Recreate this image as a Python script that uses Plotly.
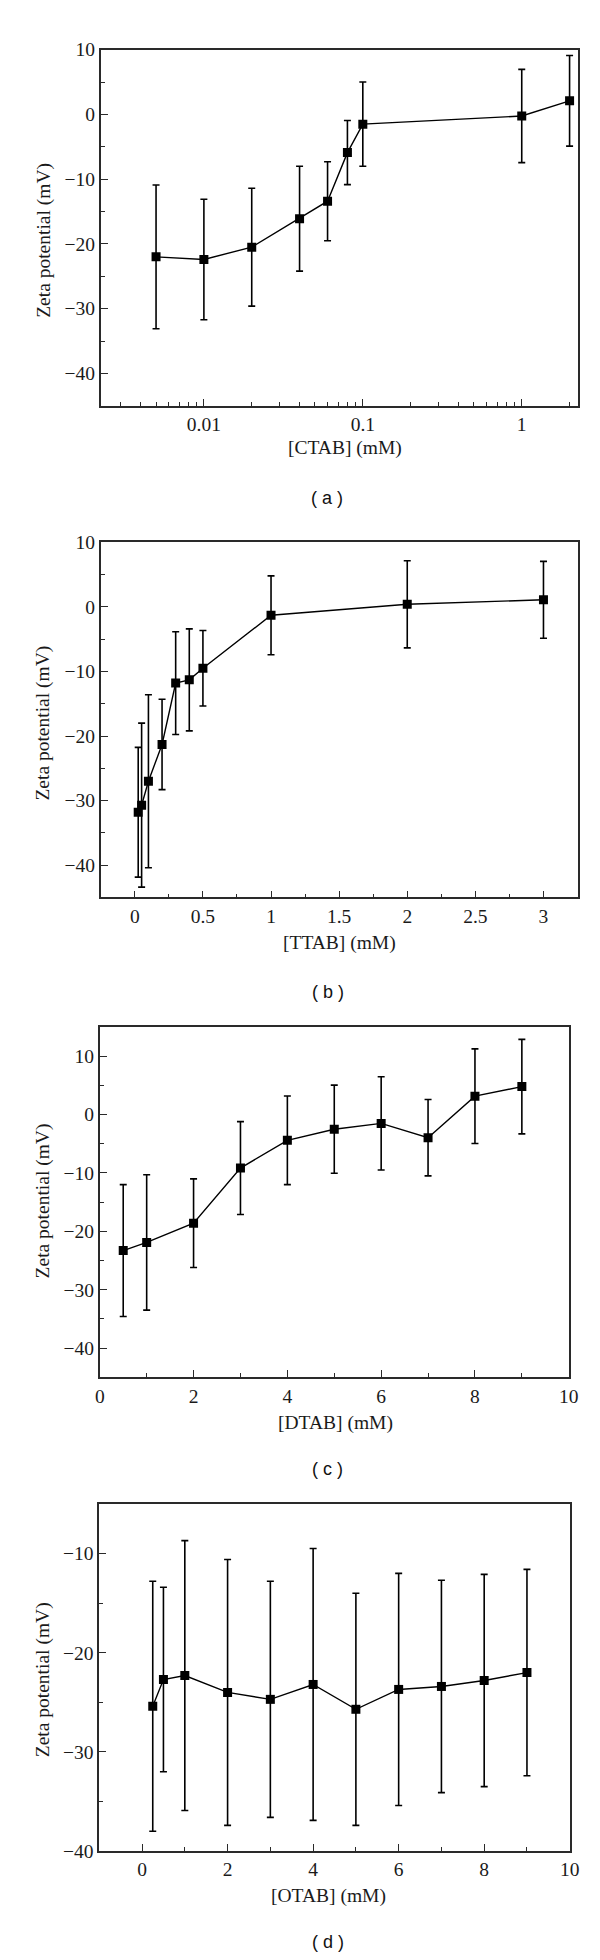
import plotly.graph_objects as go

# ---------------- data ----------------
ctab_x = [0.005, 0.01, 0.02, 0.04, 0.06, 0.08, 0.1, 1, 2]
ctab_y = [-22.0, -22.4, -20.5, -16.1, -13.4, -5.9, -1.5, -0.25, 2.1]
ctab_err = [11.1, 9.3, 9.1, 8.1, 6.1, 4.95, 6.5, 7.2, 7.0]

ttab_x = [0.025, 0.05, 0.1, 0.2, 0.3, 0.4, 0.5, 1, 2, 3]
ttab_y = [-31.8, -30.7, -27.0, -21.3, -11.8, -11.3, -9.5, -1.3, 0.4, 1.1]
ttab_err = [10.05, 12.7, 13.4, 7.0, 7.95, 7.9, 5.85, 6.1, 6.75, 5.95]

dtab_x = [0.5, 1, 2, 3, 4, 5, 6, 7, 8, 9]
dtab_y = [-23.3, -21.9, -18.6, -9.15, -4.4, -2.5, -1.5, -3.95, 3.16, 4.8]
dtab_err = [11.3, 11.6, 7.6, 7.95, 7.6, 7.55, 8.0, 6.55, 8.1, 8.1]

otab_x = [0.25, 0.5, 1, 2, 3, 4, 5, 6, 7, 8, 9]
otab_y = [-25.4, -22.7, -22.3, -24.0, -24.7, -23.2, -25.7, -23.7, -23.4, -22.8, -22.0]
otab_err = [12.6, 9.3, 13.6, 13.4, 11.9, 13.7, 11.7, 11.7, 10.7, 10.7, 10.4]

x_titles = ["[CTAB] (mM)", "[TTAB] (mM)", "[DTAB] (mM)", "[OTAB] (mM)"]
panel_labels = ["( a )", "( b )", "( c )", "( d )"]
y_title = "Zeta potential (mV)"

log_minor = [0.003, 0.004, 0.005, 0.006, 0.007, 0.008, 0.009,
             0.02, 0.03, 0.04, 0.05, 0.06, 0.07, 0.08, 0.09,
             0.2, 0.3, 0.4, 0.5, 0.6, 0.7, 0.8, 0.9, 2]

W, H = 600, 1960
SERIF = "Liberation Serif"
SANS = "Liberation Sans"

# pixel boxes (left, right, top, bottom)
boxes = [(90, 579, 32, 392), (90, 579, 530, 889), (89, 570, 1020, 1374), (88.5, 571, 1502, 1853)]

fig = go.Figure()
series = [(ctab_x, ctab_y, ctab_err), (ttab_x, ttab_y, ttab_err),
          (dtab_x, dtab_y, dtab_err), (otab_x, otab_y, otab_err)]
for i, (xs, ys, es) in enumerate(series):
    n = "" if i == 0 else str(i + 1)
    fig.add_trace(go.Scatter(
        x=xs, y=ys, xaxis="x" + n, yaxis="y" + n, mode="lines+markers",
        line=dict(color="black", width=1.4),
        marker=dict(symbol="square", size=9, color="black"),
        error_y=dict(type="data", array=es, visible=True, color="black",
                     thickness=1.6, width=3.5),
        showlegend=False))

xranges = [[-2.649, 0.351], [-0.25, 3.25], [0, 10], [-1, 10]]
yranges = [[-45, 10], [-45, 10], [-45, 15], [-40, -5]]
xdt = [None, 0.5, 2, 2]
xminor = [None, 0.25, 1, 1]

layout = dict(width=W, height=H, margin=dict(l=0, r=0, t=0, b=0),
              paper_bgcolor="white", plot_bgcolor="white", showlegend=False)
axis_common = dict(showline=True, linecolor="#2a2a2a", linewidth=1.8, mirror=True,
                   ticks="inside", ticklen=7, tickwidth=1.3, tickcolor="#2a2a2a",
                   showgrid=False, zeroline=False,
                   tickfont=dict(family=SERIF, size=19.5, color="#1a1a1a"))
for i, (l, r, t, b) in enumerate(boxes):
    n = "" if i == 0 else str(i + 1)
    xa = dict(axis_common)
    xa.update(domain=[l / W, r / W], anchor="y" + n, range=xranges[i])
    if i == 0:
        xa.update(type="log", tickmode="array", tickvals=[0.01, 0.1, 1],
                  ticktext=["0.01", "0.1", "1"],
                  minor=dict(tickmode="array", tickvals=log_minor, ticks="inside",
                             ticklen=4, tickwidth=1.2, tickcolor="#2a2a2a"))
    else:
        xa.update(tickmode="linear", tick0=0, dtick=xdt[i],
                  minor=dict(tick0=0, dtick=xminor[i], ticks="inside",
                             ticklen=4, tickwidth=1.2, tickcolor="#2a2a2a"))
    ya = dict(axis_common)
    ya.update(domain=[1 - b / H, 1 - t / H], anchor="x" + n, range=yranges[i],
              tickmode="linear", tick0=0, dtick=10,
              minor=dict(tick0=0, dtick=5, ticks="inside", ticklen=4,
                         tickwidth=1.2, tickcolor="#2a2a2a"))
    layout["xaxis" + n] = xa
    layout["yaxis" + n] = ya

fig.update_layout(**layout)

xt_pos = [(340, 435), (335, 935), (331, 1420), (324, 1898)]
yt_pos = [225, 713, 1196, 1680]
lab_pos = [(322, 485), (323, 985), (323, 1467), (323, 1945)]
ann = []
for i in range(4):
    ann.append(dict(text=x_titles[i], x=xt_pos[i][0] / W, y=1 - xt_pos[i][1] / H,
                    xref="paper", yref="paper", showarrow=False, xanchor="center",
                    yanchor="middle", font=dict(family=SERIF, size=19.5, color="#1a1a1a")))
    ann.append(dict(text=y_title, x=31 / W, y=1 - yt_pos[i] / H, textangle=-90,
                    xref="paper", yref="paper", showarrow=False, xanchor="center",
                    yanchor="middle", font=dict(family=SERIF, size=19.5, color="#1a1a1a")))
    ann.append(dict(text=panel_labels[i], x=lab_pos[i][0] / W, y=1 - lab_pos[i][1] / H,
                    xref="paper", yref="paper", showarrow=False, xanchor="center",
                    yanchor="middle", font=dict(family=SANS, size=18, color="#111")))
fig.update_layout(annotations=ann)

fig.write_html("out.html")
